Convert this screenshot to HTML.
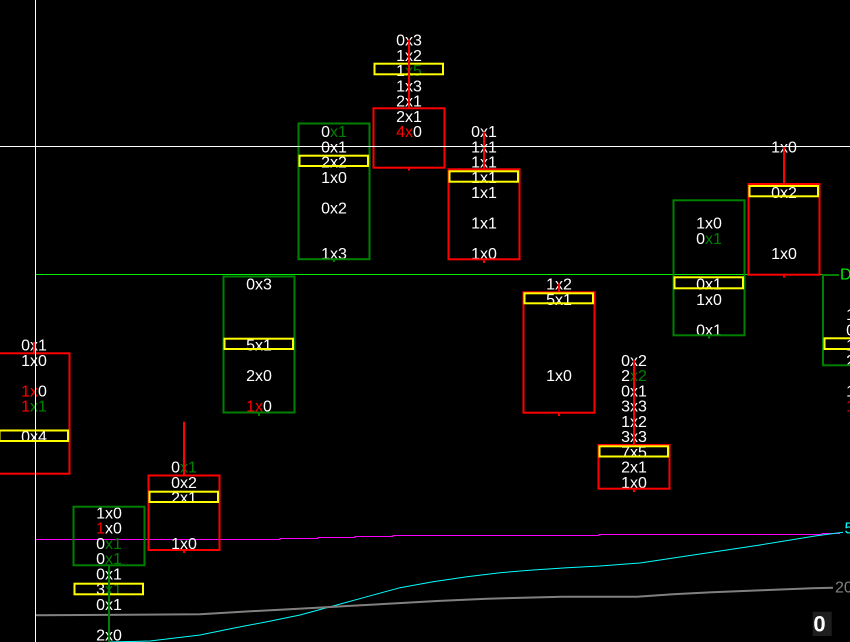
<!DOCTYPE html>
<html>
<head>
<meta charset="utf-8">
<style>
html,body{margin:0;padding:0;background:#000;}
svg{display:block;}
text{font-family:"Liberation Sans",sans-serif;font-size:16px;fill:#fff;}
.r{fill:#ff0000;}
.g{fill:#008000;}
</style>
</head>
<body>
<svg width="850" height="642" viewBox="0 0 850 642" xmlns="http://www.w3.org/2000/svg">
<rect x="0" y="0" width="850" height="642" fill="#000"/>

<!-- indicator lines -->
<polyline fill="none" stroke="#ff00ff" stroke-width="1" points="35,539.5 280,539.5 280,538.5 318,538.5 318,537.5 355,537.5 355,536.5 393,536.5 393,535.5 599,535.5 599,534.5 822,534.5 822,533.5 840,533.5"/>
<polyline fill="none" stroke="#00ffff" stroke-width="1" points="110,642 150,641 200,635 233,628.3 267,621.7 300,615 333,606 367,596.7 400,587.7 433,581.7 467,576.7 500,572.7 533,570 567,567.7 600,566 640,563 700,554 760,545 815,536 843,532.3"/>
<polyline fill="none" stroke="#808080" stroke-width="2" points="35,615.3 200,614.3 242,611.7 280,609.7 317,607.7 352,605.7 397,603.3 437,601 487,598.7 523,597.7 562,596.7 637,596.7 673,594.2 712,592.2 762,590.2 812,588.2 833,587.7"/>

<!-- green level line -->
<line x1="35" y1="274.5" x2="840" y2="274.5" stroke="#00ee00" stroke-width="1"/>

<!-- Column 1 c=34 -->
<text x="34" y="350.7" text-anchor="middle">0x1</text>
<text x="34" y="365.95" text-anchor="middle">1x0</text>
<text x="34" y="396.45" text-anchor="middle"><tspan class="r">1x</tspan>0</text>
<text x="34" y="411.7" text-anchor="middle"><tspan class="r">1</tspan><tspan class="g">x1</tspan></text>
<text x="34" y="442.2" text-anchor="middle">0x4</text>

<!-- Column 2 c=109 -->
<text x="109" y="518.45" text-anchor="middle">1x0</text>
<text x="109" y="533.7" text-anchor="middle"><tspan class="r">1</tspan>x0</text>
<text x="109" y="548.95" text-anchor="middle">0<tspan class="g">x1</tspan></text>
<text x="109" y="564.2" text-anchor="middle">0<tspan class="g">x1</tspan></text>
<text x="109" y="579.45" text-anchor="middle">0x1</text>
<text x="109" y="594.7" text-anchor="middle">3<tspan class="g">x1</tspan></text>
<text x="109" y="609.95" text-anchor="middle">0x1</text>
<text x="109" y="640.45" text-anchor="middle">2x0</text>

<!-- Column 3 c=184 -->
<text x="184" y="472.7" text-anchor="middle">0<tspan class="g">x1</tspan></text>
<text x="184" y="487.95" text-anchor="middle">0x2</text>
<text x="184" y="503.2" text-anchor="middle">2x1</text>
<text x="184" y="548.95" text-anchor="middle">1x0</text>

<!-- Column 4 c=259 -->
<text x="259" y="289.7" text-anchor="middle">0x3</text>
<text x="259" y="350.7" text-anchor="middle">5x1</text>
<text x="259" y="381.2" text-anchor="middle">2x0</text>
<text x="259" y="411.7" text-anchor="middle"><tspan class="r">1x</tspan>0</text>

<!-- Column 5 c=334 -->
<text x="334" y="137.2" text-anchor="middle">0<tspan class="g">x1</tspan></text>
<text x="334" y="152.45" text-anchor="middle">0x1</text>
<text x="334" y="167.7" text-anchor="middle">2x2</text>
<text x="334" y="182.95" text-anchor="middle">1x0</text>
<text x="334" y="213.45" text-anchor="middle">0x2</text>
<text x="334" y="259.2" text-anchor="middle">1x3</text>

<!-- Column 6 c=409 -->
<text x="409" y="45.7" text-anchor="middle">0x3</text>
<text x="409" y="60.95" text-anchor="middle">1x2</text>
<text x="409" y="76.2" text-anchor="middle">1<tspan class="g">x5</tspan></text>
<text x="409" y="91.45" text-anchor="middle">1x3</text>
<text x="409" y="106.7" text-anchor="middle">2x1</text>
<text x="409" y="121.95" text-anchor="middle">2x1</text>
<text x="409" y="137.2" text-anchor="middle"><tspan class="r">4x</tspan>0</text>

<!-- Column 7 c=484 -->
<text x="484" y="137.2" text-anchor="middle">0x1</text>
<text x="484" y="152.45" text-anchor="middle">1x1</text>
<text x="484" y="167.7" text-anchor="middle">1x1</text>
<text x="484" y="182.95" text-anchor="middle">1x1</text>
<text x="484" y="198.2" text-anchor="middle">1x1</text>
<text x="484" y="228.7" text-anchor="middle">1x1</text>
<text x="484" y="259.2" text-anchor="middle">1x0</text>

<!-- Column 8 c=559 -->
<text x="559" y="289.7" text-anchor="middle">1x2</text>
<text x="559" y="304.95" text-anchor="middle">5x1</text>
<text x="559" y="381.2" text-anchor="middle">1x0</text>

<!-- Column 9 c=634 -->
<text x="634" y="365.95" text-anchor="middle">0x2</text>
<text x="634" y="381.2" text-anchor="middle">2<tspan class="g">x2</tspan></text>
<text x="634" y="396.45" text-anchor="middle">0x1</text>
<text x="634" y="411.7" text-anchor="middle">3x3</text>
<text x="634" y="426.95" text-anchor="middle">1x2</text>
<text x="634" y="442.2" text-anchor="middle">3x3</text>
<text x="634" y="457.45" text-anchor="middle">7x5</text>
<text x="634" y="472.7" text-anchor="middle">2x1</text>
<text x="634" y="487.95" text-anchor="middle">1x0</text>

<!-- Column 10 c=709 -->
<text x="709" y="228.7" text-anchor="middle">1x0</text>
<text x="709" y="243.95" text-anchor="middle">0<tspan class="g">x1</tspan></text>
<text x="709" y="289.7" text-anchor="middle">0x1</text>
<text x="709" y="304.95" text-anchor="middle">1x0</text>
<text x="709" y="335.45" text-anchor="middle">0x1</text>

<!-- Column 11 c=784 -->
<text x="784" y="152.45" text-anchor="middle">1x0</text>
<text x="784" y="198.2" text-anchor="middle">0x2</text>
<text x="784" y="259.2" text-anchor="middle">1x0</text>

<!-- Column 12 c=859 -->
<text x="859" y="320.2" text-anchor="middle">1x0</text>
<text x="859" y="335.45" text-anchor="middle">0x1</text>
<text x="859" y="350.7" text-anchor="middle">1x1</text>
<text x="859" y="365.95" text-anchor="middle">2x0</text>
<text x="859" y="396.45" text-anchor="middle">1x0</text>
<text x="859" y="411.7" text-anchor="middle"><tspan class="r">1x</tspan>0</text>

<!-- bodies -->
<g fill="none" stroke-width="2">
<rect x="-1.5" y="353.3" width="71" height="120.4" stroke="#ff0000"/>
<rect x="73.5" y="506.7" width="71" height="58.6" stroke="#008000"/>
<rect x="148.5" y="475.5" width="71" height="74.5" stroke="#ff0000"/>
<rect x="223.5" y="276.5" width="71" height="136" stroke="#008000"/>
<rect x="298.5" y="123.5" width="71" height="135.7" stroke="#008000"/>
<rect x="373.5" y="108.3" width="71" height="59.4" stroke="#ff0000"/>
<rect x="448.5" y="169.3" width="71" height="90" stroke="#ff0000"/>
<rect x="523.5" y="292.3" width="71" height="120.4" stroke="#ff0000"/>
<rect x="598.5" y="445" width="71" height="43.7" stroke="#ff0000"/>
<rect x="673.5" y="200.3" width="71" height="135" stroke="#008000"/>
<rect x="748.5" y="184" width="71" height="90.7" stroke="#ff0000"/>
<rect x="823" y="275" width="71" height="90.3" stroke="#008000"/>
</g>

<!-- yellow POC boxes -->
<g fill="none" stroke="#ffff00" stroke-width="2">
<rect x="-0.5" y="430.5" width="68.5" height="10.5"/>
<rect x="74.5" y="583.7" width="68.5" height="10.6"/>
<rect x="149.5" y="491.7" width="68.5" height="10.3"/>
<rect x="224.5" y="338.7" width="68.5" height="10.3"/>
<rect x="299.5" y="155.7" width="68.5" height="10.3"/>
<rect x="374.5" y="63.7" width="68.5" height="10.6"/>
<rect x="449.5" y="171.3" width="68.5" height="10.4"/>
<rect x="524.5" y="293.3" width="68.5" height="10"/>
<rect x="599.5" y="446.3" width="68.5" height="10.2"/>
<rect x="674.5" y="277.3" width="68.5" height="11"/>
<rect x="749.5" y="186" width="68.5" height="10.3"/>
<rect x="824.5" y="338.3" width="68.5" height="10.7"/>
</g>

<!-- wicks -->
<g stroke-width="2">
<line x1="34" y1="342" x2="34" y2="353" stroke="#ff0000"/>
<line x1="109" y1="566" x2="109" y2="642" stroke="#008000"/>
<line x1="184" y1="421.7" x2="184" y2="475" stroke="#ff0000"/>
<line x1="184" y1="551" x2="184" y2="553" stroke="#ff0000"/>
<line x1="259" y1="413" x2="259" y2="416" stroke="#008000"/>
<line x1="334" y1="260" x2="334" y2="262" stroke="#008000"/>
<line x1="409" y1="39.3" x2="409" y2="108" stroke="#ff0000"/>
<line x1="409" y1="168.7" x2="409" y2="170.5" stroke="#ff0000"/>
<line x1="484" y1="131.7" x2="484" y2="169" stroke="#ff0000"/>
<line x1="484" y1="260.3" x2="484" y2="263" stroke="#ff0000"/>
<line x1="559" y1="283.3" x2="559" y2="292" stroke="#ff0000"/>
<line x1="559" y1="413.7" x2="559" y2="416" stroke="#ff0000"/>
<line x1="634" y1="360" x2="634" y2="445" stroke="#ff0000"/>
<line x1="634" y1="489.7" x2="634" y2="492" stroke="#ff0000"/>
<line x1="709" y1="336.3" x2="709" y2="338.5" stroke="#008000"/>
<line x1="784" y1="146.7" x2="784" y2="184" stroke="#ff0000"/>
<line x1="784" y1="275.7" x2="784" y2="277.5" stroke="#ff0000"/>
</g>

<!-- crosshair -->
<line x1="0" y1="146.5" x2="850" y2="146.5" stroke="#ffffff" stroke-width="1"/>
<line x1="35.5" y1="0" x2="35.5" y2="642" stroke="#ffffff" stroke-width="1"/>

<!-- right-edge labels -->
<rect x="839" y="263" width="11" height="22" fill="#000"/>
<text x="840" y="279.3" style="fill:#00ee00">D</text>
<text x="844.5" y="533.3" style="fill:#00ffff">5</text>
<text x="835" y="592.5" style="fill:#808080">20</text>

<!-- counter box -->
<rect x="812.7" y="611.7" width="19" height="24.3" fill="#1e1e1e"/>
<text x="819.5" y="631.7" text-anchor="middle" style="font-size:22px;font-weight:bold;fill:#fff">0</text>
</svg>
</body>
</html>
